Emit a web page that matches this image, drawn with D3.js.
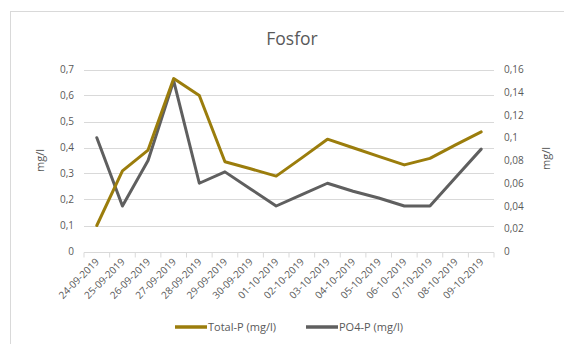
<!DOCTYPE html>
<html>
<head>
<meta charset="utf-8">
<script src="https://cdn.jsdelivr.net/npm/d3@7"></script>
<style>
  html, body { margin: 0; padding: 0; background: #fff; }
  svg { display: block; font-family: "Open Sans", "Noto Sans", sans-serif; }
</style>
</head>
<body>
<svg id="chart" width="564" height="344"></svg>
<script>
// Sampling dates
const dates = ["24-09-2019", "25-09-2019", "26-09-2019", "27-09-2019", "28-09-2019",
  "29-09-2019", "30-09-2019", "01-10-2019", "02-10-2019", "03-10-2019", "04-10-2019",
  "05-10-2019", "06-10-2019", "07-10-2019", "08-10-2019", "09-10-2019"];

// Total phosphorus (left axis, mg/l)
const totalP = [0.10, 0.31, 0.39, 0.665, 0.60, 0.345, 0.318, 0.29, 0.36, 0.432,
  0.399, 0.366, 0.333, 0.358, 0.41, 0.46];

// Orthophosphate phosphorus (right axis, mg/l)
const po4P = [0.10, 0.04, 0.08, 0.15, 0.06, 0.07, 0.055, 0.04, 0.05, 0.06,
  0.053, 0.047, 0.04, 0.04, 0.065, 0.09];

const leftTicks = [0, 0.1, 0.2, 0.3, 0.4, 0.5, 0.6, 0.7];
const rightTicks = [0, 0.02, 0.04, 0.06, 0.08, 0.1, 0.12, 0.14, 0.16];

const seriesNames = ["Total-P (mg/l)", "PO4-P (mg/l)"];
const colors = ["#9b7d0c", "#5f5f5f"];

const svg = d3.select("#chart");
const plot = { left: 84, right: 494, top: 69.5, bottom: 251.5 };
const fmt = d => String(d).replace(".", ",");
const textColor = "#595959";
const gridColor = "#d9d9d9";

// Chart area frame
svg.append("rect")
  .attr("x", 10.5).attr("y", 11.5)
  .attr("width", 560).attr("height", 340)
  .attr("fill", "#fff").attr("stroke", gridColor);

const x = d3.scaleBand().domain(dates).range([plot.left, plot.right]);
const yL = d3.scaleLinear().domain([0, 0.7]).range([plot.bottom, plot.top]);
const yR = d3.scaleLinear().domain([0, 0.16]).range([plot.bottom, plot.top]);

// Title
svg.append("text")
  .attr("x", 292).attr("y", 45)
  .attr("text-anchor", "middle")
  .attr("font-size", 17.5)
  .attr("fill", textColor)
  .text("Fosfor");

// Horizontal gridlines from the left axis
svg.append("g")
  .selectAll("line")
  .data(leftTicks.filter(d => d > 0))
  .join("line")
  .attr("x1", plot.left).attr("x2", plot.right)
  .attr("y1", d => Math.round(yL(d)) + 0.5).attr("y2", d => Math.round(yL(d)) + 0.5)
  .attr("stroke", gridColor).attr("stroke-width", 1);

// Left axis
const gL = svg.append("g")
  .attr("transform", `translate(${plot.left - 7},0)`)
  .call(d3.axisLeft(yL).tickValues(leftTicks).tickFormat(fmt).tickSize(0));
gL.select(".domain").remove();
gL.selectAll("text").attr("fill", textColor).attr("font-size", 10).attr("font-family", "Open Sans");

// Right axis
const gR = svg.append("g")
  .attr("transform", `translate(${plot.right + 7},0)`)
  .call(d3.axisRight(yR).tickValues(rightTicks).tickFormat(fmt).tickSize(0));
gR.select(".domain").remove();
gR.selectAll("text").attr("fill", textColor).attr("font-size", 10).attr("font-family", "Open Sans");

// Category axis with tick marks between dates
const gX = svg.append("g")
  .attr("transform", `translate(0,${Math.round(plot.bottom) + 0.5})`);
gX.append("line")
  .attr("x1", plot.left).attr("x2", plot.right)
  .attr("stroke", gridColor);
gX.selectAll("line.tick")
  .data(d3.range(dates.length + 1))
  .join("line")
  .attr("class", "tick")
  .attr("x1", i => plot.left + i * x.step()).attr("x2", i => plot.left + i * x.step())
  .attr("y1", 0).attr("y2", 5)
  .attr("stroke", gridColor);
gX.selectAll("text")
  .data(dates)
  .join("text")
  .attr("transform", d => `translate(${x(d) + x.bandwidth() / 2 + 3},${10}) rotate(-45)`)
  .attr("text-anchor", "end")
  .attr("font-size", 10)
  .attr("fill", textColor)
  .text(d => d);

// Axis titles
svg.append("text")
  .attr("transform", `translate(44,${(plot.top + plot.bottom) / 2}) rotate(-90)`)
  .attr("text-anchor", "middle")
  .attr("font-size", 11).attr("fill", textColor)
  .text("mg/l");
svg.append("text")
  .attr("transform", `translate(550,${(plot.top + plot.bottom) / 2 - 2}) rotate(-90)`)
  .attr("text-anchor", "middle")
  .attr("font-size", 11).attr("fill", textColor)
  .text("mg/l");

// Series lines
const cx = d => x(d) + x.bandwidth() / 2;
const lineL = d3.line().x((v, i) => cx(dates[i])).y(v => yL(v));
const lineR = d3.line().x((v, i) => cx(dates[i])).y(v => yR(v));

svg.append("path")
  .datum(po4P)
  .attr("d", lineR)
  .attr("fill", "none").attr("stroke", colors[1])
  .attr("stroke-width", 3).attr("stroke-linejoin", "round").attr("stroke-linecap", "round");

svg.append("path")
  .datum(totalP)
  .attr("d", lineL)
  .attr("fill", "none").attr("stroke", colors[0])
  .attr("stroke-width", 3).attr("stroke-linejoin", "round").attr("stroke-linecap", "round");

// Legend
const legend = svg.append("g").attr("transform", "translate(0,327)");
const legendX = [175, 306];
seriesNames.forEach((name, i) => {
  const g = legend.append("g").attr("transform", `translate(${legendX[i]},0)`);
  g.append("line")
    .attr("x1", 0).attr("x2", 32).attr("y1", 0).attr("y2", 0)
    .attr("stroke", colors[i]).attr("stroke-width", 3.5);
  g.append("text")
    .attr("x", 33).attr("y", 4)
    .attr("font-size", 11).attr("fill", textColor)
    .text(name);
});
</script>
</body>
</html>
